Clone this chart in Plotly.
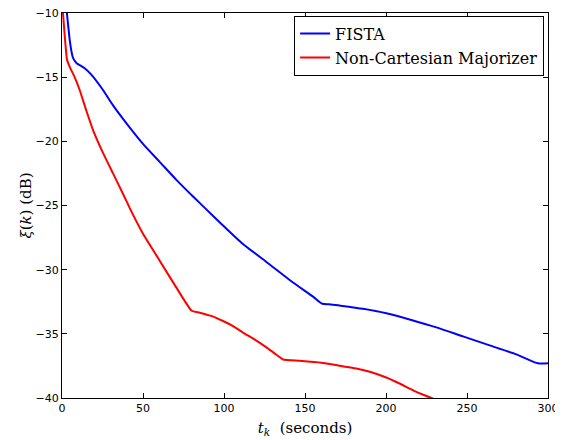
import plotly.graph_objects as go

fista_t = [3.0, 4.0, 4.75, 6.0, 6.8, 8.9, 14.0, 18.1, 25.3, 31.5, 39.8, 50.0, 60.3, 70.6, 80.9,
           89.1, 97.3, 111.7, 126.2, 142.6, 155.0, 160.7, 165.0, 171.4, 185.8, 200.2, 216.7,
           231.1, 247.5, 264.0, 280.5, 293.8, 300.0]
fista_db = [-10.0, -11.2, -12.1, -13.1, -13.5, -13.9, -14.3, -14.8, -16.0, -17.2, -18.6, -20.2,
            -21.6, -23.0, -24.3, -25.3, -26.3, -28.0, -29.4, -31.0, -32.1, -32.66, -32.7, -32.8,
            -33.05, -33.4, -33.96, -34.5, -35.2, -35.9, -36.6, -37.3, -37.3]

ncm_t = [0.6, 1.7, 3.1, 4.75, 7.8, 10.9, 15.0, 19.1, 25.3, 31.5, 37.7, 42.2, 50.0, 60.3, 70.6,
         80.0, 85.0, 92.0, 99.4, 105.6, 111.7, 119.0, 126.2, 131.0, 136.4, 146.7, 160.0, 170.0,
         181.7, 190.0, 200.2, 208.0, 216.7, 223.0, 230.0]
ncm_db = [-10.0, -11.8, -13.65, -14.2, -15.0, -16.0, -17.6, -19.1, -20.9, -22.5, -24.1, -25.3,
          -27.2, -29.3, -31.4, -33.2, -33.35, -33.6, -34.0, -34.4, -34.9, -35.45, -36.05, -36.5,
          -37.0, -37.1, -37.25, -37.45, -37.7, -37.95, -38.4, -38.85, -39.4, -39.75, -40.1]

x_ticks = [0, 50, 100, 150, 200, 250, 300]
y_ticks = [-40, -35, -30, -25, -20, -15, -10]

fig = go.Figure()
fig.add_trace(go.Scatter(x=fista_t, y=fista_db, mode="lines", name="FISTA",
                         line=dict(color="#0000ff", width=2, shape="spline", smoothing=0.6)))
fig.add_trace(go.Scatter(x=ncm_t, y=ncm_db, mode="lines", name="Non-Cartesian Majorizer",
                         line=dict(color="#ff0000", width=2, shape="spline", smoothing=0.4)))

axis_common = dict(showgrid=False, zeroline=False, showline=True, linecolor="black",
                   linewidth=1, mirror="ticks", ticks="inside", ticklen=5, tickwidth=1,
                   tickcolor="black", automargin=False, ticklabeloverflow="allow",
                   tickfont=dict(family="DejaVu Sans", size=11, color="black"))

fig.update_xaxes(range=[0, 300], tickvals=x_ticks,
                 title=dict(text="<i>t</i><sub><i>k</i></sub>  (seconds)",
                            font=dict(family="DejaVu Serif", size=15, color="black"),
                            standoff=8),
                 **axis_common)
fig.update_yaxes(range=[-40, -10], tickvals=y_ticks,
                 title=dict(text="<i>ξ</i>(<i>k</i>) (dB)",
                            font=dict(family="DejaVu Serif", size=15, color="black"),
                            standoff=0),
                 **axis_common)

fig.update_layout(
    width=555, height=432,
    margin=dict(l=54, r=15, t=5, b=42),
    plot_bgcolor="white", paper_bgcolor="white",
    legend=dict(x=0.992, y=0.993, xanchor="right", yanchor="top",
                bgcolor="white", bordercolor="black", borderwidth=1,
                font=dict(family="DejaVu Serif", size=16, color="black"),
                tracegroupgap=0),
)

fig.write_html("out.html")
